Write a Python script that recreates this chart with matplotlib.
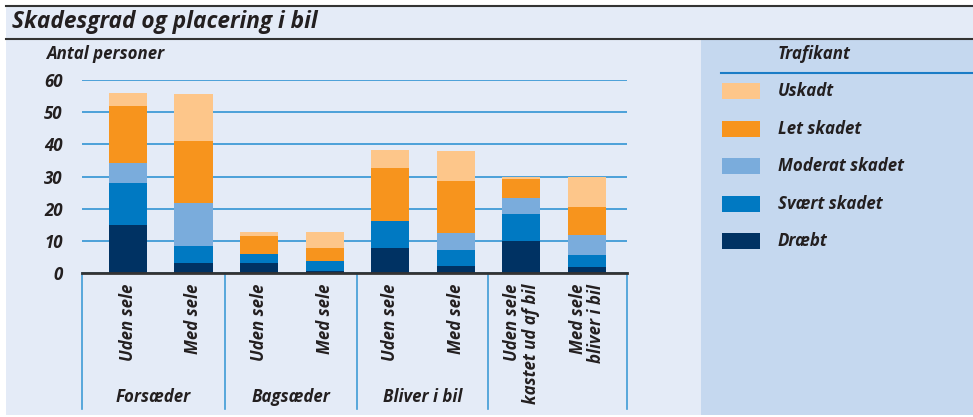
import matplotlib.pyplot as plt
from matplotlib.patches import Rectangle
from matplotlib.lines import Line2D
import matplotlib.transforms as mtransforms

plt.rcParams['font.family'] = ['Open Sans', 'DejaVu Sans']

# data (antal personer)
labels = ["Uden sele", "Med sele", "Uden sele", "Med sele", "Uden sele", "Med sele",
          "Uden sele\nkastet ud af bil", "Med sele\nbliver i bil"]
groups = ["Forsæder", "Bagsæder", "Bliver i bil"]
serier = ["Dræbt", "Svært skadet", "Moderat skadet", "Let skadet", "Uskadt"]
draebt = [15, 3, 3, 0.7, 7.9, 2.3, 10, 2]
svaert = [13, 5.5, 3, 3.1, 8.3, 4.9, 8.4, 3.7]
moderat = [6.3, 13.2, 0, 0, 0, 5.1, 5, 6.1]
let = [17.7, 19.3, 5.6, 4, 16.5, 16.4, 5.9, 8.8]
uskadt = [4, 14.7, 1.2, 5, 5.6, 9.3, 0.5, 9.2]

farver = ["#003263", "#0079c2", "#7aacdc", "#f7941d", "#fdc68a"]
bg = "#e4ebf7"
panel = "#c5d8ef"
grid = "#3f9bd6"
txt = "#231f20"
fs = 12.2

fig = plt.figure(figsize=(9.73, 4.17), dpi=100)
fig.patch.set_facecolor("white")
W, H = 973, 417

def fx(p):
    return p / W

def fy(p):
    return 1 - p / H

# backgrounds
fig.patches.append(Rectangle((fx(6), fy(415)), 1, fy(6) - fy(415), transform=fig.transFigure,
                             facecolor=bg, edgecolor="none", zorder=-2))
fig.patches.append(Rectangle((fx(701), fy(415)), 1, fy(39) - fy(415), transform=fig.transFigure,
                             facecolor=panel, edgecolor="none", zorder=-1))
fig.lines.append(Line2D([fx(6), 1], [fy(5.5), fy(5.5)], transform=fig.transFigure, color="#333333", lw=1.5))
fig.lines.append(Line2D([fx(6), 1], [fy(38.5), fy(38.5)], transform=fig.transFigure, color="#333333", lw=1.5))

fig.text(fx(12), fy(22), "Skadesgrad og placering i bil", fontsize=16.3, fontweight="bold",
         fontstyle="italic", color=txt, va="center", ha="left")
fig.text(fx(46), fy(54), "Antal personer", fontsize=fs, fontweight="bold",
         fontstyle="italic", color=txt, va="center", ha="left")

ax = fig.add_axes([fx(82), fy(273), fx(627) - fx(82), fy(80) - fy(273)])
ax.set_facecolor("none")
x = list(range(len(labels)))
bottom = [0] * len(labels)
for vals, c in zip([draebt, svaert, moderat, let, uskadt], farver):
    ax.bar(x, vals, width=0.58, bottom=bottom, color=c, zorder=3)
    bottom = [b + v for b, v in zip(bottom, vals)]

ax.set_xlim(-0.70, 7.61)
ax.set_ylim(0, 60)
ax.set_yticks(range(0, 61, 10))
ax.yaxis.grid(True, color=grid, lw=1.3, zorder=1)
ax.set_axisbelow(True)
ax.set_xticks([])
for s in ["top", "right", "left"]:
    ax.spines[s].set_visible(False)
ax.spines["bottom"].set_color("#333333")
ax.spines["bottom"].set_linewidth(2)
ax.spines["bottom"].set_zorder(4)
ax.tick_params(axis="y", length=0, pad=14, labelsize=fs, labelcolor=txt)
for t in ax.get_yticklabels():
    t.set_fontweight("bold")
    t.set_fontstyle("italic")

trans = mtransforms.blended_transform_factory(ax.transData, ax.transAxes)
for xs in [-0.70, 1.48, 3.49, 5.49, 7.61]:
    ax.plot([xs, xs], [0, -0.705], transform=trans, color=grid, lw=1.2, clip_on=False)

for i, lab in enumerate(labels):
    ax.text(i, -0.057, lab, transform=trans, rotation=90, ha="center", va="top",
            multialignment="right", fontsize=fs, fontweight="bold", fontstyle="italic",
            color=txt, linespacing=1.05)

for gx, g in zip([0.39, 2.49, 4.49], groups):
    ax.text(gx, -0.642, g, transform=trans, ha="center", va="center", fontsize=fs,
            fontweight="bold", fontstyle="italic", color=txt)

# legend panel
fig.text(fx(778), fy(54), "Trafikant", fontsize=fs, fontweight="bold", fontstyle="italic",
         color=txt, va="center", ha="left")
fig.lines.append(Line2D([fx(721), 1], [fy(73), fy(73)], transform=fig.transFigure, color="#1a7cc6", lw=1.5))
rows = [91, 129, 166, 204, 241]
for yy, name, c in zip(rows, serier[::-1], farver[::-1]):
    fig.patches.append(Rectangle((fx(722), fy(yy + 8)), fx(38), 16 / H, transform=fig.transFigure,
                                 facecolor=c, edgecolor="none"))
    fig.text(fx(778), fy(yy), name, fontsize=fs, fontweight="bold", fontstyle="italic",
             color=txt, va="center", ha="left")

fig.savefig("out.png", dpi=100, facecolor=fig.get_facecolor())
